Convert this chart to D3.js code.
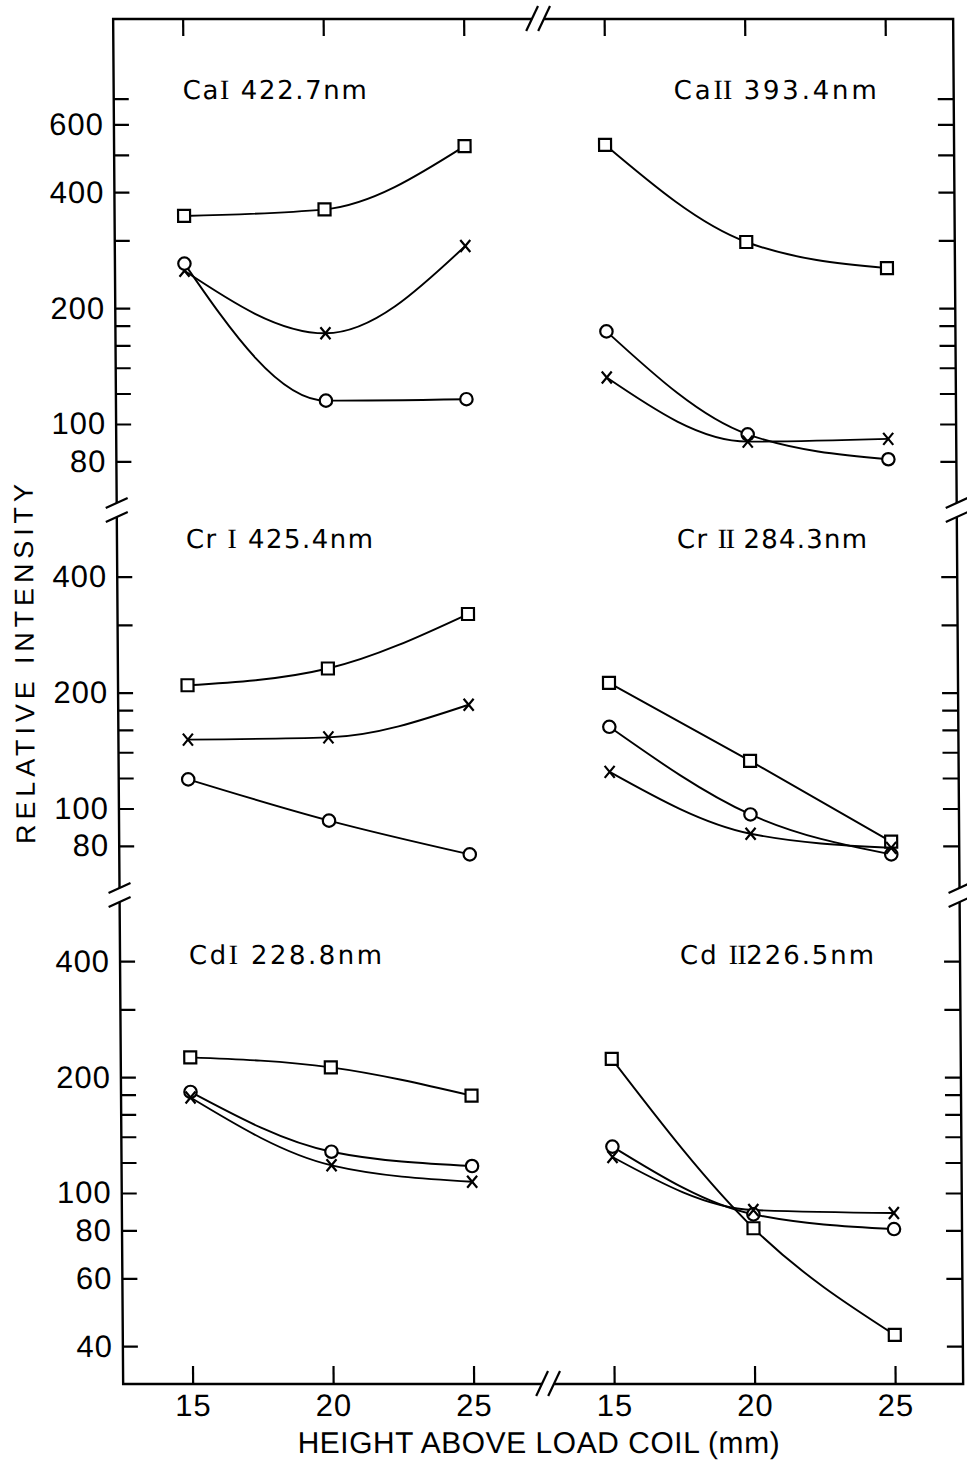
<!DOCTYPE html>
<html>
<head>
<meta charset="utf-8">
<script src="https://cdn.jsdelivr.net/npm/d3@7"></script>
<style>
  body { margin: 0; background: #fff; }
  text { font-family: "Liberation Sans", "DejaVu Sans", sans-serif; fill: #000; }
</style>
</head>
<body>
<script>
const w = 967;
const h = 1462;

// heights above load coil (mm); the right column continues the axis after the break
const heights = [15, 20, 25];
const columnShift = [0, 15];
const xTickValues = [15, 20, 25, 30, 35, 40];

// Ca lines (top panel)
const caI_square = [347, 361, 527];
const caI_cross = [250, 172, 290];
const caI_circle = [261, 115, 116];
const caII_square = [531, 297, 254];
const caII_circle = [174, 94, 81];
const caII_cross = [132, 90, 91.5];

// Cr lines (middle panel)
const crI_square = [209, 231, 320];
const crI_cross = [151, 153, 186];
const crI_circle = [119, 93, 76];
const crII_square = [212, 133, 82];
const crII_circle = [163, 96.5, 76];
const crII_cross = [124.5, 86, 79];

// Cd lines (bottom panel)
const cdI_square = [225, 212, 179];
const cdI_circle = [183, 128, 117.5];
const cdI_cross = [177, 118, 107];
const cdII_square = [223, 81, 42.8];
const cdII_circle = [132, 88, 80.6];
const cdII_cross = [124, 90.3, 88.7];

// element, ionisation stage (roman numeral), wavelength
const titles = [
  [["Ca", "I", " 422.7nm"], ["Ca", "II", " 393.4nm"]],
  [["Cr ", "I", " 425.4nm"], ["Cr ", "II", " 284.3nm"]],
  [["Cd", "I", " 228.8nm"], ["Cd ", "II", "226.5nm"]]
];

const labelTicks = [
  [600, 400, 200, 100, 80],
  [400, 200, 100, 80],
  [400, 200, 100, 80, 60, 40]
];
const minorTicks = [
  [700, 500, 300, 180, 160, 140, 120],
  [300, 180, 160, 140, 120],
  [300, 180, 160, 140, 120]
];

const yTitle = "RELATIVE INTENSITY";
const xTitle = "HEIGHT ABOVE LOAD COIL (mm)";

// panel -> column -> series
const panels = [
  [
    [["square", caI_square], ["cross", caI_cross], ["circle", caI_circle]],
    [["square", caII_square], ["circle", caII_circle], ["cross", caII_cross]]
  ],
  [
    [["square", crI_square], ["cross", crI_cross], ["circle", crI_circle]],
    [["square", crII_square], ["circle", crII_circle], ["cross", crII_cross]]
  ],
  [
    [["square", cdI_square], ["circle", cdI_circle], ["cross", cdI_cross]],
    [["square", cdII_square], ["circle", cdII_circle], ["cross", cdII_cross]]
  ]
];

// layout
const frameLeft = 113, frameRight = 953, frameTop = 19, frameBottom = 1384;
const breakYs = [510, 895];
const breakX = 27.65;
const titleX = [182, 673];
const titleY = [99, 548, 964];
const titleW = [[184, 203], [187, 190], [193, 194]];

const svg = d3
  .select("body")
  .append("svg")
  .attr("width", w)
  .attr("height", h);

// the scanned original leans slightly to the right
const g = svg.append("g").attr("transform", "skewX(0.42)");

const x = d3.scaleLinear().domain([15, 40]).range([182.5, 885]);

function yScale(i) {
  const y100 = 424 + i * 384.5;
  return d3.scaleLog().domain([100, 1000]).range([y100, y100 - 385]);
}

// frame
g.append("path")
  .attr("d", `M${frameLeft},${frameTop}H${frameRight}V${frameBottom}H${frameLeft}Z`)
  .attr("fill", "none")
  .attr("stroke", "#000")
  .attr("stroke-width", 2.4);

function styleAxis(sel) {
  sel.select(".domain").remove();
  sel.selectAll("line").attr("stroke", "#000").attr("stroke-width", 2.2);
  sel.selectAll("text")
    .attr("font-size", 31)
    .attr("fill", "#000")
    .attr("letter-spacing", 1);
  sel.attr("font-family", null).attr("font-size", null);
}

// x axes (top ticks only, bottom with labels)
g.append("g")
  .attr("transform", `translate(0,${frameTop})`)
  .call(d3.axisTop(x).tickValues(xTickValues).tickSize(-17).tickFormat(""))
  .call(styleAxis);

g.append("g")
  .attr("transform", `translate(0,${frameBottom})`)
  .call(
    d3.axisBottom(x)
      .tickValues(xTickValues)
      .tickSize(-18)
      .tickPadding(10)
      .tickFormat(d => (d > breakX ? d - 15 : d))
  )
  .call(styleAxis);

// y axes, curves and markers for each panel
panels.forEach((cols, i) => {
  const y = yScale(i);
  const ticks = labelTicks[i].concat(minorTicks[i]);

  g.append("g")
    .attr("transform", `translate(${frameLeft},0)`)
    .call(
      d3.axisLeft(y)
        .tickValues(ticks)
        .tickSize(-15)
        .tickPadding(10)
        .tickFormat(d => (labelTicks[i].includes(d) ? d : ""))
    )
    .call(styleAxis);

  g.append("g")
    .attr("transform", `translate(${frameRight},0)`)
    .call(d3.axisRight(y).tickValues(ticks).tickSize(-16).tickFormat(""))
    .call(styleAxis);

  cols.forEach((series, c) => {
    const line = d3
      .line()
      .x((v, k) => x(heights[k] + columnShift[c]))
      .y(v => y(v))
      .curve(d3.curveMonotoneX);

    const pg = g.append("g");

    series.forEach(([type, values]) => {
      pg.append("path")
        .attr("d", line(values))
        .attr("fill", "none")
        .attr("stroke", "#000")
        .attr("stroke-width", 1.9);
    });

    series.forEach(([type, values]) => {
      const pts = pg
        .selectAll(null)
        .data(values)
        .enter()
        .append("g")
        .attr("transform", (v, k) =>
          "translate(" + x(heights[k] + columnShift[c]) + "," + y(v) + ")"
        );
      if (type === "square") {
        pts.append("rect")
          .attr("x", -6).attr("y", -6)
          .attr("width", 12).attr("height", 12)
          .attr("fill", "#fff").attr("stroke", "#000").attr("stroke-width", 2.2);
      } else if (type === "circle") {
        pts.append("circle")
          .attr("r", 6.2)
          .attr("fill", "#fff").attr("stroke", "#000").attr("stroke-width", 2.2);
      } else {
        pts.append("path")
          .attr("d", "M-5,-6L5,6M5,-6L-5,6")
          .attr("stroke", "#000").attr("stroke-width", 2.2);
      }
    });

    // panel title: numeral drawn with serifs, as in the original lettering
    const [elem, stage, wave] = titles[i][c];
    const t = g.append("text")
      .attr("x", titleX[c])
      .attr("y", titleY[i])
      .style("font-family", "'DejaVu Sans', sans-serif")
      .style("font-size", "26px")
      .attr("textLength", titleW[i][c])
      .attr("lengthAdjust", "spacing");
    t.append("tspan").text(elem);
    t.append("tspan")
      .style("font-family", "'Liberation Serif', 'DejaVu Serif', serif")
      .style("font-size", "28px")
      .style("letter-spacing", stage.length > 1 ? "-2.5px" : "0px")
      .text(stage);
    t.append("tspan").text(wave);
  });
});

// break marks on the side axes
breakYs.forEach(by => {
  [frameLeft, frameRight].forEach(bx => {
    g.append("rect")
      .attr("x", bx - 3).attr("y", by - 7)
      .attr("width", 6).attr("height", 14)
      .attr("fill", "#fff");
    [-7, 7].forEach(off => {
      g.append("line")
        .attr("x1", bx - 11).attr("y1", by + off + 5)
        .attr("x2", bx + 11).attr("y2", by + off - 5)
        .attr("stroke", "#000").attr("stroke-width", 2.2);
    });
  });
});

// break marks on the top and bottom axes
[frameTop, frameBottom].forEach(by => {
  const bx = x(breakX);
  g.append("rect")
    .attr("x", bx - 6).attr("y", by - 3)
    .attr("width", 12).attr("height", 6)
    .attr("fill", "#fff");
  [-6, 6].forEach(off => {
    g.append("line")
      .attr("x1", bx + off - 6).attr("y1", by + 12)
      .attr("x2", bx + off + 6).attr("y2", by - 13)
      .attr("stroke", "#000").attr("stroke-width", 2.2);
  });
});

// axis titles
g.append("text")
  .attr("transform", "translate(29,664) rotate(-90)")
  .attr("text-anchor", "middle")
  .attr("font-size", 27)
  .attr("textLength", 360)
  .attr("lengthAdjust", "spacing")
  .text(yTitle);

g.append("text")
  .attr("x", 528)
  .attr("y", 1453)
  .attr("text-anchor", "middle")
  .attr("font-size", 30)
  .attr("textLength", 482)
  .attr("lengthAdjust", "spacing")
  .text(xTitle);
</script>
</body>
</html>
